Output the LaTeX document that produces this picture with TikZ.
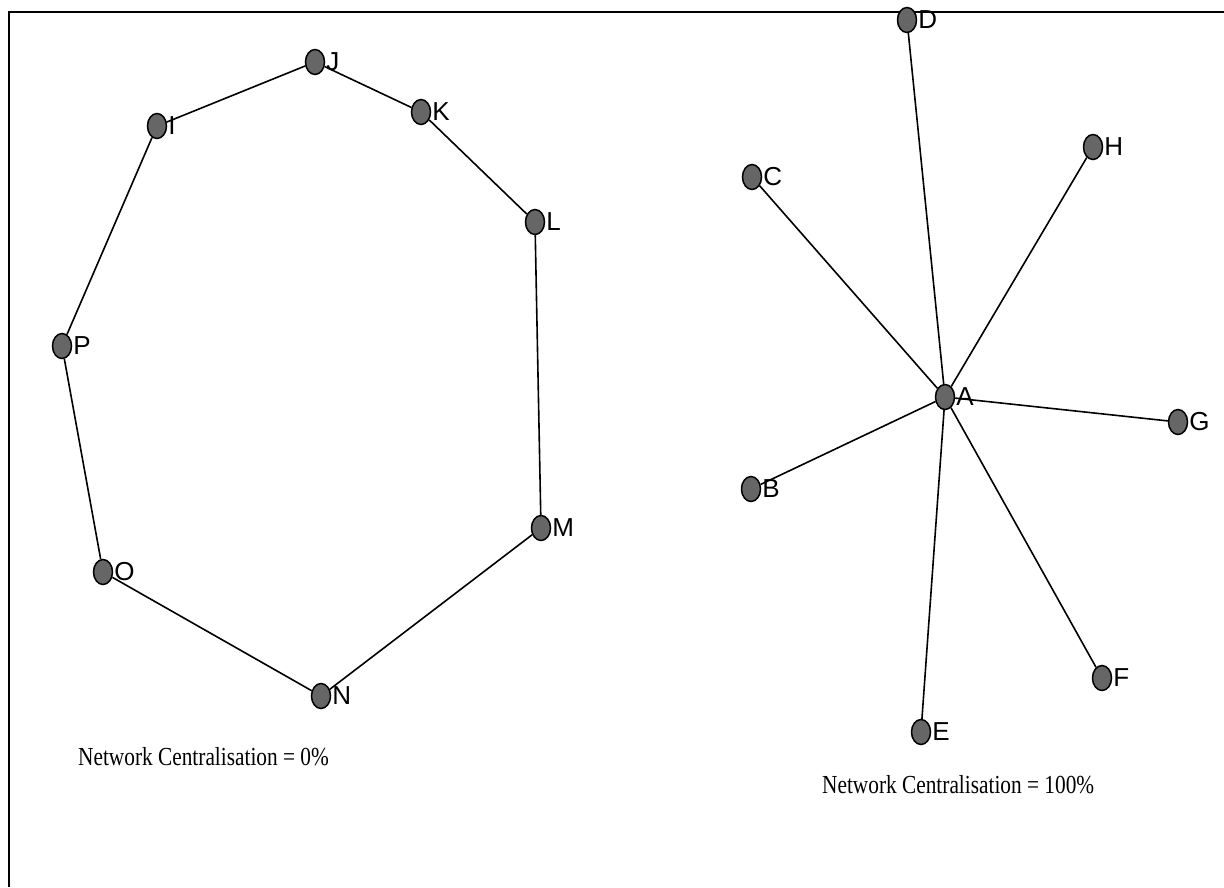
\documentclass[tikz,border=0pt]{standalone}
\usepackage{fontspec}
\setmainfont{Liberation Serif}
\newfontfamily\lblfont{Liberation Sans}
\usetikzlibrary{shapes.geometric}
\tikzset{
  actor/.style={ellipse,draw=black,line width=1.5pt,fill=black!60,minimum width=19pt,minimum height=25pt,inner sep=0pt,
    label={[lbl]right:#1}},
  lbl/.style={font=\lblfont\fontsize{26}{26}\selectfont,inner sep=0pt,label distance=1pt},
  tie/.style={line width=1.6pt},
  caption/.style={font=\fontsize{26}{26}\selectfont,inner sep=0pt,anchor=base west}
}
\begin{document}
\begin{tikzpicture}[x=1pt,y=-1pt]
      \useasboundingbox (0,0) rectangle (1224,887);
      \draw[line width=2pt] (9,887) -- (9,12) -- (1224,12);
      \node[actor=I] (I) at (157,126) {};
      \node[actor=J] (J) at (315,62) {};
      \node[actor=K] (K) at (421,112) {};
      \node[actor=L] (L) at (535,222) {};
      \node[actor=M] (M) at (541,528) {};
      \node[actor=N] (N) at (321,696) {};
      \node[actor=O] (O) at (103,572) {};
      \node[actor=P] (P) at (62,346) {};
      \draw[tie] (I) -- (J);
      \draw[tie] (J) -- (K);
      \draw[tie] (K) -- (L);
      \draw[tie] (L) -- (M);
      \draw[tie] (M) -- (N);
      \draw[tie] (N) -- (O);
      \draw[tie] (O) -- (P);
      \draw[tie] (P) -- (I);
      \node[caption] (capring) at (78,765) {\scalebox{0.82}[1]{Network Centralisation = 0\%}};
      \node[actor=A] (A) at (945,397) {};
      \node[actor=B] (B) at (751,489) {};
      \node[actor=C] (C) at (752,177) {};
      \node[actor=D] (D) at (907,20) {};
      \node[actor=E] (E) at (921,732) {};
      \node[actor=F] (F) at (1102,678) {};
      \node[actor=G] (G) at (1178,422) {};
      \node[actor=H] (H) at (1093,147) {};
      \draw[tie] (A) -- (B);
      \draw[tie] (A) -- (C);
      \draw[tie] (A) -- (D);
      \draw[tie] (A) -- (E);
      \draw[tie] (A) -- (F);
      \draw[tie] (A) -- (G);
      \draw[tie] (A) -- (H);
      \node[caption] (capstar) at (822,793) {\scalebox{0.82}[1]{Network Centralisation = 100\%}};
\end{tikzpicture}
\end{document}
